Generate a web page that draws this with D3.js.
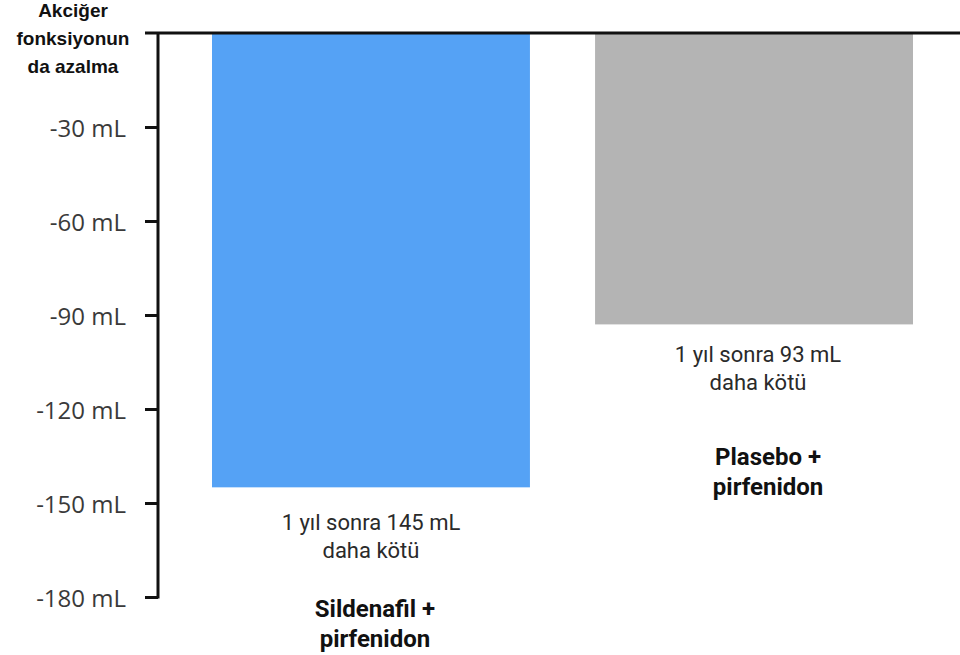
<!DOCTYPE html>
<html><head><meta charset="utf-8">
<script src="https://cdn.jsdelivr.net/npm/d3@7"></script>
<style>html,body{margin:0;padding:0;background:#fff;}svg{display:block;}</style>
</head><body>
<svg id="c" width="960" height="655"></svg>
<script>
const categories = ["Sildenafil + pirfenidon", "Plasebo + pirfenidon"];
const values = [-145, -93];
const barColors = ["#55A2F5", "#B4B4B4"];
const noteLines = [["1 yıl sonra 145 mL", "daha kötü"], ["1 yıl sonra 93 mL", "daha kötü"]];
const nameLines = [["Sildenafil +", "pirfenidon"], ["Plasebo +", "pirfenidon"]];
const tickValues = [-30, -60, -90, -120, -150, -180];
const tickLabels = ["-30 mL", "-60 mL", "-90 mL", "-120 mL", "-150 mL", "-180 mL"];
const titleLines = ["Akciğer", "fonksiyonun", "da azalma"];

const svg = d3.select("#c");
const y = d3.scaleLinear().domain([0, -180]).range([33, 597]);
const x = d3.scaleBand().domain(categories).range([212, 913]).paddingInner(0.17).paddingOuter(0);

// bars
svg.selectAll("rect.bar").data(categories).join("rect")
  .attr("class", "bar")
  .attr("x", d => x(d))
  .attr("width", x.bandwidth())
  .attr("y", y(0))
  .attr("height", (d, i) => y(values[i]) - y(0))
  .attr("fill", (d, i) => barColors[i]);

// y axis
const axisX = 158;
const axis = d3.axisLeft(y).tickValues(tickValues).tickSize(13).tickPadding(19)
  .tickFormat((d, i) => tickLabels[i]);
const ag = svg.append("g").attr("transform", `translate(${axisX},0)`).call(axis);
ag.select(".domain").remove();
ag.selectAll(".tick line").attr("stroke", "#111").attr("stroke-width", 3);
ag.selectAll(".tick text").attr("fill", "#3a3a3a").attr("dy", "0.4em")
  .style("font-family", "'Open Sans', sans-serif").style("font-size", "24px");
svg.append("line").attr("x1", axisX).attr("x2", axisX)
  .attr("y1", y(0)).attr("y2", y(-180) + 1.5)
  .attr("stroke", "#111").attr("stroke-width", 3);
// zero line across
svg.append("line").attr("x1", 145).attr("x2", 960)
  .attr("y1", y(0)).attr("y2", y(0))
  .attr("stroke", "#111").attr("stroke-width", 3);

// title
svg.append("text").attr("x", 73).attr("y", 17)
  .attr("text-anchor", "middle")
  .style("font-family", "'Liberation Sans', Arial, sans-serif")
  .style("font-weight", "bold").style("font-size", "19px").attr("fill", "#111")
  .selectAll("tspan").data(titleLines).join("tspan")
  .attr("x", 73).attr("dy", (d, i) => i ? 28 : 0).text(d => d);

// annotations below bars
const noteOffset = [43, 38];
const nameOffset = [130, 141];
categories.forEach((c, i) => {
  const cx = x(c) + x.bandwidth() / 2;
  const by = y(values[i]);
  const t = svg.append("text").attr("text-anchor", "middle")
    .style("font-family", "Roboto, sans-serif").style("font-size", "22px").attr("fill", "#2a2a2a");
  t.selectAll("tspan").data(noteLines[i]).join("tspan")
    .attr("x", cx + (i ? 4 : 0)).attr("y", (d, j) => by + noteOffset[i] + j * 28).text(d => d);
  const n = svg.append("text").attr("text-anchor", "middle")
    .style("font-family", "Roboto, sans-serif").style("font-weight", "bold")
    .style("font-size", "24px").attr("fill", "#111");
  n.selectAll("tspan").data(nameLines[i]).join("tspan")
    .attr("x", cx + (i ? 14 : 4)).attr("y", (d, j) => by + nameOffset[i] + j * 30).text(d => d);
});
</script>
</body></html>
